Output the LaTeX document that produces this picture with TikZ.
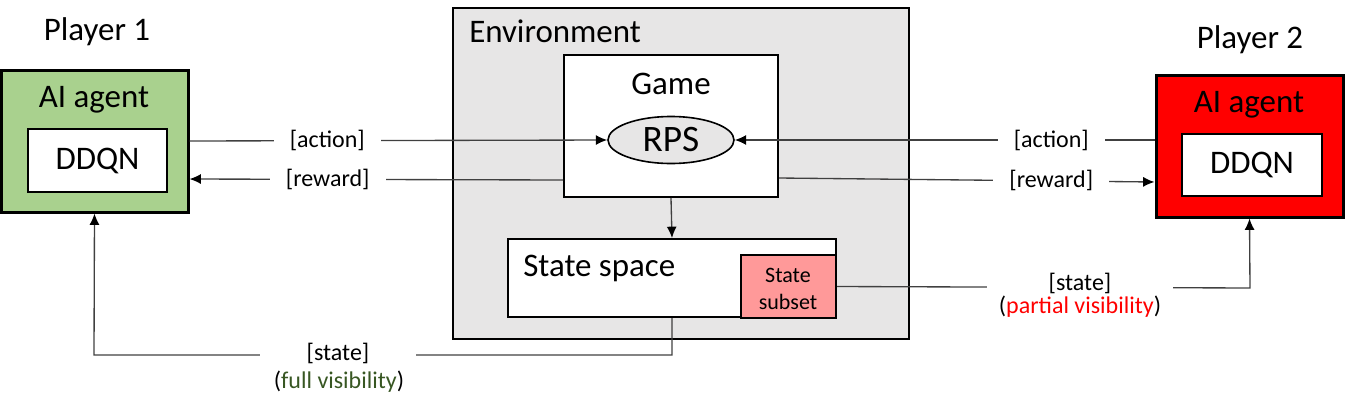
\documentclass[tikz,border=0pt]{standalone}
\usepackage{fontspec}
\setmainfont{Carlito}
\usetikzlibrary{arrows.meta,fit,shapes.geometric,calc}
\definecolor{agentgreen}{HTML}{A9D18E}
\definecolor{agentred}{HTML}{FF0000}
\definecolor{envgray}{HTML}{E7E6E6}
\definecolor{subsetpink}{HTML}{FF9999}
\definecolor{darkgreen}{HTML}{385723}
\definecolor{linegray}{HTML}{404040}
\newcommand{\headfont}{\fontsize{24.7pt}{30pt}\selectfont}
\newcommand{\lblfont}{\fontsize{18pt}{22pt}\selectfont}
\tikzset{
  box/.style={draw=black, inner sep=0pt, line width=1.5pt},
  head/.style={font=\headfont, inner sep=0pt},
  lbl/.style={font=\lblfont, fill=white, inner xsep=12pt, inner ysep=3pt},
  sublbl/.style={font=\lblfont, inner sep=0pt},
  conn/.style={draw=linegray, line width=1pt},
  arr/.style={conn, -{Latex[length=8.5pt,width=7.5pt,color=black]}},
}
\begin{document}
\begin{tikzpicture}[x=0.75pt,y=-0.75pt]
\useasboundingbox (0,0) rectangle (1357,411);

% Environment
\node[box, fill=envgray, line width=1.9pt, fit={(453,8) (909,339)}] (env) {};
\node[head, anchor=west] (envt) at (469,31) {Environment};

% Game
\node[box, fill=white, fit={(564,55) (778,197)}] (game) {};
\node[head] (gamet) at (671,84) {Game};
\node[ellipse, draw=black, line width=1.2pt, fill=envgray, minimum width=94.5pt, minimum height=35.25pt, inner sep=0pt, font=\fontsize{28pt}{32pt}\selectfont] (rps) at (671,140) {RPS};

% State space
\node[box, fill=white, fit={(508,239) (836,317)}] (state) {};
\node[head, anchor=west] (statet) at (523,268) {State space};
\node[box, fill=subsetpink, fit={(741,255) (836,318)}] (subset) {};
\node[align=center, inner sep=0pt, font=\fontsize{16.5pt}{20pt}\selectfont] (subsett) at (788,289) {State\\subset};

% Player 1
\node[head] (p1) at (97,32) {Player 1};
\node[box, fill=agentgreen, line width=2.25pt, fit={(1,70) (188,212)}] (green) {};
\node[head] (g_ai) at (94,100) {AI agent};
\node[box, fill=white, fit={(28,129) (167,192)}] (gddqn) {};
\node[head] (gddqnt) at (gddqn.center) {DDQN};

% Player 2
\node[head] (p2) at (1250,40) {Player 2};
\node[box, fill=agentred, line width=2.25pt, fit={(1156,75) (1343,217)}] (red) {};
\node[head] (r_ai) at (1249,105) {AI agent};
\node[box, fill=white, fit={(1182,134) (1322,196)}] (rddqn) {};
\node[head] (rddqnt) at (rddqn.center) {DDQN};

% connectors
\draw[arr] (green.east) -- node[lbl, pos=0.33] (la) {[action]} (rps.west);
\draw[arr] ([yshift=13.5pt]game.south west) -- node[lbl, pos=0.63] (lr) {[reward]} ([yshift=-28.5pt]green.east);
\draw[arr] ([yshift=4.5pt]red.west) -- node[lbl, pos=0.246] (ra) {[action]} (rps.east);
\draw[arr] ([yshift=-39pt]game.east) -- node[lbl, pos=0.725] (rr) {[reward]} ([yshift=-27pt]red.west);
\draw[arr] (game.south) -- (state.north);

\coordinate (lcorner) at (94,355);
\coordinate (rcorner) at (1250,288);
\draw[arr] (state.south) |- (lcorner) -- (green.south);
\node[lbl, minimum width=117pt, minimum height=22pt] (ls) at (338,353) {[state]};
\node[sublbl] (lsv) at (339,382) {(\textcolor{darkgreen}{full visibility})};

\draw[arr] (subset.east) -- (rcorner) -- (red.south);
\node[lbl, minimum width=140pt, minimum height=22pt] (rs) at (1080,283) {[state]};
\node[sublbl] (rsv) at (1080,307) {(\textcolor{agentred}{partial visibility})};
\end{tikzpicture}
\end{document}
